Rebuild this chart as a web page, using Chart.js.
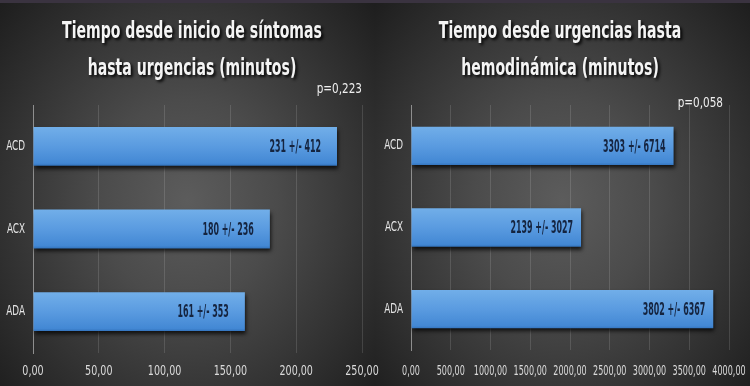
<!DOCTYPE html>
<html>
<head>
<meta charset="utf-8">
<script src="https://cdn.jsdelivr.net/npm/chart.js@4/dist/chart.umd.min.js"></script>
<style>
  html, body { margin:0; padding:0; width:750px; height:386px; overflow:hidden; background:#1e1e1e; }
  .panel { position:absolute; top:0; height:386px; width:375px;
    background: radial-gradient(ellipse 68% 75% at 50% 52%, #5c5c5c 0%, #4b4b4b 35%, #333333 70%, #1e1e1e 100%); }
  #p1 { left:0; } #p2 { left:375px; }
  .topline { position:absolute; left:0; top:0; width:750px; height:3px; background:#3a3340; }
  canvas { position:absolute; top:0; }
  #c1 { left:0; } #c2 { left:375px; }
</style>
</head>
<body>
<div class="panel" id="p1"></div>
<div class="panel" id="p2"></div>
<div class="topline"></div>
<canvas id="c1" width="390" height="386"></canvas>
<canvas id="c2" width="375" height="386"></canvas>
<script>
const categories = ['ACD', 'ACX', 'ADA'];
const onsetMeans = [231, 180, 161];
const onsetSD = [412, 236, 353];
const hemoMeans = [3303, 2139, 3802];
const hemoSD = [6714, 3027, 6367];
const title1 = ['Tiempo desde inicio de síntomas', 'hasta urgencias (minutos)'];
const title2 = ['Tiempo desde urgencias hasta', 'hemodinámica (minutos)'];
const pValue1 = 'p=0,223';
const pValue2 = 'p=0,058';

const FONT = "'Liberation Sans Narrow', 'DejaVu Sans Condensed', 'Arial Narrow', sans-serif";

function fmt(v) { return Number(v).toFixed(2).replace('.', ','); }

function squashText(c, text, x, y, align, factor) {
  c.save();
  c.translate(x, y);
  c.scale(factor, 1);
  c.textAlign = align;
  c.fillText(text, 0, 0);
  c.restore();
}

function barGradient(ctx) {
  const chart = ctx.chart;
  const ys = chart.scales && chart.scales.y;
  if (!ys || ctx.dataIndex === undefined) return '#4a90d9';
  const y = ys.getPixelForValue(ctx.dataIndex);
  if (!Number.isFinite(y)) return '#4a90d9';
  const h = 20;
  const g = chart.ctx.createLinearGradient(0, y - h, 0, y + h);
  g.addColorStop(0, '#72afe9');
  g.addColorStop(0.5, '#5a9be0');
  g.addColorStop(0.92, '#4388d4');
  g.addColorStop(1, '#2f6fb8');
  return g;
}

function makeChart(canvasId, means, sds, xmax, step, titleLines, titleX, pText, pPos, pad, cfg) {
  const decorPlugin = {
    id: 'decor',
    beforeDatasetsDraw(chart) {
      const c = chart.ctx;
      c.save();
      c.shadowColor = 'rgba(0,0,0,0.75)';
      c.shadowBlur = 4;
      c.shadowOffsetX = 1;
      c.shadowOffsetY = 3;
    },
    afterDatasetsDraw(chart) {
      const c = chart.ctx;
      c.restore();
      const meta = chart.getDatasetMeta(0);
      c.save();
      c.font = 'bold 18px ' + FONT;
      c.fillStyle = '#15243f';
      c.textBaseline = 'middle';
      meta.data.forEach((bar, i) => {
        squashText(c, means[i] + ' +/- ' + sds[i], bar.x - cfg.labelGap, bar.y + 1, 'right', 0.49);
      });
      c.restore();
    },
    afterDraw(chart) {
      const c = chart.ctx;
      const xs = chart.scales.x, ys = chart.scales.y, area = chart.chartArea;
      c.save();
      // axis tick labels
      c.textBaseline = 'middle';
      c.fillStyle = '#dadada';
      c.font = '14px ' + FONT;
      xs.ticks.forEach(t => {
        squashText(c, fmt(t.value), xs.getPixelForValue(t.value), cfg.tickY, 'center', cfg.tickSquash);
      });
      c.fillStyle = '#e6e6e6';
      c.font = '14px ' + FONT;
      ys.ticks.forEach(t => {
        squashText(c, ys.getLabelForValue(t.value), area.left - 8, ys.getPixelForValue(t.value), 'right', 0.7);
      });
      // title
      c.textBaseline = 'alphabetic';
      c.font = 'bold 23px ' + FONT;
      c.shadowColor = 'rgba(0,0,0,0.95)';
      c.shadowBlur = 3;
      c.shadowOffsetX = 2;
      c.shadowOffsetY = 2;
      c.fillStyle = '#f4f4f4';
      squashText(c, titleLines[0], titleX, 38, 'center', 0.68);
      squashText(c, titleLines[1], titleX, 75, 'center', 0.68);
      c.shadowColor = 'transparent';
      c.font = '14px ' + FONT;
      c.fillStyle = '#eeeeee';
      squashText(c, pText, pPos[0], pPos[1], 'right', 0.83);
      c.restore();
    }
  };
  return new Chart(document.getElementById(canvasId), {
    type: 'bar',
    data: {
      labels: categories,
      datasets: [{
        data: means,
        backgroundColor: barGradient,
        borderWidth: 0,
        barPercentage: 0.47,
        categoryPercentage: 1.0
      }]
    },
    options: {
      indexAxis: 'y',
      responsive: false,
      animation: false,
      events: [],
      layout: { padding: { left: pad.left, right: pad.right, top: pad.top, bottom: pad.bottom } },
      plugins: { legend: { display: false }, tooltip: { enabled: false }, title: { display: false } },
      scales: {
        x: {
          min: 0, max: xmax,
          ticks: { stepSize: step, display: false },
          grid: { color: 'rgba(255,255,255,0.13)', drawTicks: false },
          border: { display: false },
          afterFit(scale) { scale.height = 33; scale.paddingLeft = 0; scale.paddingRight = 0; }
        },
        y: {
          ticks: { display: false },
          grid: { display: false, drawTicks: false },
          border: { display: true, color: '#8e8e8e', width: 1 },
          afterFit(scale) { scale.width = pad.yw; }
        }
      }
    },
    plugins: [decorPlugin]
  });
}

makeChart('c1', onsetMeans, onsetSD, 250, 50, title1, 192, pValue1, [362, 93],
  { left: 0, right: 28, top: 105, bottom: 0, yw: 33 }, { labelGap: 16, tickY: 371, tickSquash: 0.76 });
makeChart('c2', hemoMeans, hemoSD, 4000, 500, title2, 185, pValue2, [348, 107],
  { left: 0, right: 21, top: 105, bottom: 3, yw: 36 }, { labelGap: 8, tickY: 371, tickSquash: 0.64 });
</script>
</body>
</html>
